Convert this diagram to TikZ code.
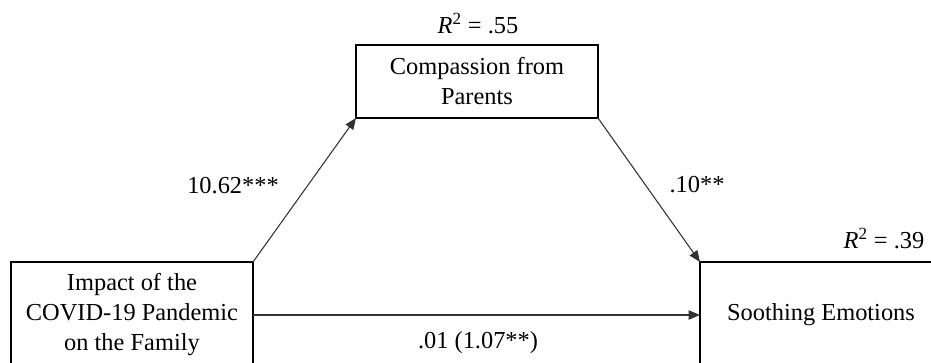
\documentclass[tikz,border=0pt]{standalone}
\usepackage{fontspec}
\setmainfont{Liberation Serif}
\usetikzlibrary{arrows.meta}
\begin{document}
\begin{tikzpicture}[x=0.75pt,y=-0.75pt,
  txt/.style={font=\fontsize{18.3}{22.5}\selectfont},
  box/.style={txt, draw=black, line width=1.5pt, minimum width=181.5pt, inner sep=0pt, outer sep=0pt, align=center},
  lbl/.style={txt, inner sep=0pt, anchor=base},
  conn/.style={draw=black!80, line width=0.8pt, -{Triangle[length=8.5pt,width=7pt]}}]
\useasboundingbox (0,0) rectangle (931,362);
\clip (0,0) rectangle (931,362);
\node[box, minimum height=54.75pt] (cp) at (477,81.5) {Compassion from\\Parents};
\node[box, minimum height=79.5pt] (im) at (132,315) {Impact of the\\COVID-19 Pandemic\\on the Family};
\node[box, minimum height=79.5pt] (se) at (821,315) {Soothing Emotions};
\draw[conn] (im.north east) -- (cp.south west);
\draw[conn] (cp.south east) -- (se.north west);
\draw[conn] (im.east) -- (se.west);
\node[lbl] (r55) at (478,33) {\textit{R}\textsuperscript{2} = .55};
\node[lbl] (r39) at (884,248) {\textit{R}\textsuperscript{2} = .39};
\node[lbl] (pa) at (233,193) {10.62***};
\node[lbl] (pb) at (697,192) {.10**};
\node[lbl] (pc) at (478,348) {.01 (1.07**)};
\end{tikzpicture}
\end{document}
